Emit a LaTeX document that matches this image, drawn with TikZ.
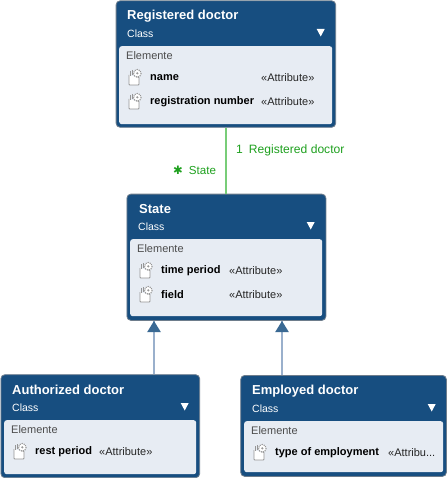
\documentclass[tikz,border=0pt]{standalone}
\usepackage{fontspec}
\setmainfont{Liberation Sans}
\newfontfamily\symfont{DejaVu Sans}
\definecolor{clshead}{RGB}{23,78,128}
\definecolor{clsedge}{RGB}{110,125,140}
\definecolor{clsbody}{RGB}{231,236,243}
\definecolor{assocgreen}{RGB}{120,205,120}
\definecolor{asctxt}{RGB}{30,160,30}
\definecolor{genline}{RGB}{154,176,204}
\definecolor{icongray}{RGB}{150,150,150}
\tikzset{
  clsbox/.style={draw=clsedge, fill=clshead, rounded corners=4pt, anchor=north west, inner sep=0pt, line width=0.8pt},
  clsinner/.style={fill=clsbody, rounded corners=2.5pt, anchor=north west, inner sep=0pt},
  clstitle/.style={font=\bfseries\fontsize{13}{14}\selectfont, text=white, anchor=west, inner sep=0pt},
  clssub/.style={font=\fontsize{10.5}{12}\selectfont, text=white, anchor=west, inner sep=0pt},
  clssec/.style={font=\fontsize{11}{12}\selectfont, text=black!70, anchor=west, inner sep=0pt},
  clsname/.style={font=\bfseries\fontsize{11}{12}\selectfont, text=black, anchor=west, inner sep=0pt},
  clstype/.style={font=\fontsize{11}{12}\selectfont, text=black!85, anchor=west, inner sep=0pt},
  asclbl/.style={font=\fontsize{11.6}{12}\selectfont, text=asctxt, anchor=west, inner sep=0pt},
  assoc/.style={draw=assocgreen, line width=2pt},
  genspec/.style={draw=genline, line width=2pt},
  gentip/.style={fill=clshead!85!white}
}
% attribute icon: sheet with a small gear
\newcommand{\attricon}[2]{%
  \draw[icongray, line width=0.8pt, fill=white, rounded corners=0.8pt] (#1-6,#2-3) -- (#1-6,#2+7) -- (#1+4,#2+7) -- (#1+4,#2-1) -- (#1+1,#2-1);
  \draw[icongray, line width=0.8pt] (#1-5,#2-7) -- (#1-5,#2-2);
  \draw[icongray, line width=0.8pt] (#1-3,#2-8) -- (#1-3,#2-3);
  \draw[icongray, line width=1.1pt, densely dotted, fill=white] (#1+2.3,#2-4.7) circle (3.8);
  \fill[icongray] (#1+2.3,#2-4.7) circle (1.2);
}
% triangle of a generalization, tip at the given point
\newcommand{\gentri}[1]{%
  \fill[gentip] (#1) -- ++(6.8,11) -- ++(-13.6,0) -- cycle;
}
% collapse mark of a class box
\newcommand{\clsmark}[2]{%
  \fill[white] (#1-4,#2-3.5) -- (#1+4,#2-3.5) -- (#1,#2+4) -- cycle;
}
\begin{document}
\begin{tikzpicture}[x=1pt, y=-1pt]
  \useasboundingbox (0,0) rectangle (447,478);
  % registered doctor
  \node[clsbox, minimum width=219.6pt, minimum height=126.5pt] (regdoc) at (115.7,0.4) {};
  \node[clsinner, minimum width=213pt, minimum height=78pt] (regdocbody) at (119,46) {};
  \node[clstitle] (regdoctitle) at (127,16.2) {Registered doctor};
  \node[clssub] (regdocsub) at (127,34) {Class};
  \clsmark{320.7}{32.5}
  \node[clssec] (regdocsec) at (126,55.5) {Elemente};
  \attricon{135}{78}
  \node[clsname] (regdocname) at (150,78) {name};
  \node[clstype] (regdocnametype) at (261,77.5) {«Attribute»};
  \attricon{135}{102}
  \node[clsname] (regdocnum) at (150,102) {registration number};
  \node[clstype] (regdocnumtype) at (261,101.5) {«Attribute»};
  % state
  \node[clsbox, minimum width=199pt, minimum height=126.3pt] (state) at (126.5,193.7) {};
  \node[clsinner, minimum width=192pt, minimum height=77pt] (statebody) at (130,239) {};
  \node[clstitle] (statetitle) at (139,209.2) {State};
  \node[clssub] (statesub) at (138,227) {Class};
  \clsmark{310.7}{225.5}
  \node[clssec] (statesec) at (137,248.5) {Elemente};
  \attricon{146}{271}
  \node[clsname] (stateperiod) at (161,271) {time period};
  \node[clstype] (stateperiodtype) at (229,270.5) {«Attribute»};
  \attricon{146}{295}
  \node[clsname] (statefield) at (161,295) {field};
  \node[clstype] (statefieldtype) at (229,294.5) {«Attribute»};
  % authorized doctor
  \node[clsbox, minimum width=198.8pt, minimum height=103pt] (authdoc) at (0.5,374.3) {};
  \node[clsinner, minimum width=192pt, minimum height=54pt] (authdocbody) at (4,420) {};
  \node[clstitle] (authdoctitle) at (12,389.8) {Authorized doctor};
  \node[clssub] (authdocsub) at (12,408) {Class};
  \clsmark{184.7}{406.5}
  \node[clssec] (authdocsec) at (11,429.5) {Elemente};
  \attricon{20}{452}
  \node[clsname] (authdocrest) at (35,452) {rest period};
  \node[clstype] (authdocresttype) at (99,451.5) {«Attribute»};
  % employed doctor
  \node[clsbox, minimum width=205.7pt, minimum height=101pt] (empdoc) at (240.3,375) {};
  \node[clsinner, minimum width=199pt, minimum height=51pt] (empdocbody) at (244,421) {};
  \node[clstitle] (empdoctitle) at (252,391) {Employed doctor};
  \node[clssub] (empdocsub) at (252,409) {Class};
  \clsmark{431.7}{407.5}
  \node[clssec] (empdocsec) at (251,430.5) {Elemente};
  \attricon{260}{453}
  \node[clsname] (empdoctype) at (275,453) {type of employment};
  \node[clstype] (empdoctypetype) at (388,452.5) {«Attribu...};
  % connectors
  \coordinate (genleft) at (154,321);
  \coordinate (genright) at (282,321);
  \draw[assoc] (state.north) -- (state.north |- regdoc.south);
  \node[asclbl, font=\fontsize{12.1}{12}\selectfont] (ascone) at (236,150) {1\hspace{6pt}Registered doctor};
  \node[asclbl] (ascstate) at (173,170) {{\symfont ✱}\hspace{6pt}State};
  \draw[genspec] (genleft |- authdoc.north) -- (genleft);
  \draw[genspec] (genright |- empdoc.north) -- (genright);
  \gentri{genleft}
  \gentri{genright}
\end{tikzpicture}
\end{document}
